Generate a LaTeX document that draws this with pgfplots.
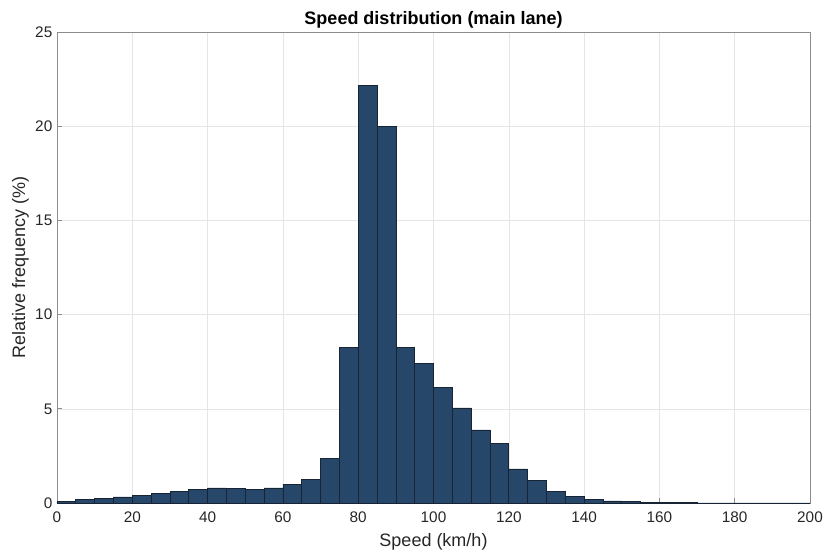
\documentclass[border=0pt]{standalone}
\usepackage{pgfplots}
\pgfplotsset{compat=1.18}
\usepackage{fontspec}
\setmainfont{Liberation Sans}
\definecolor{barfill}{RGB}{38,70,106}
\definecolor{baredge}{RGB}{22,36,52}
\definecolor{axgray}{RGB}{38,38,38}
\begin{document}
\begin{tikzpicture}
\path[use as bounding box] (-42.75pt,-36pt) rectangle (578.25pt,377.25pt);
\begin{axis}[
  at={(0,0)}, anchor=south west,
  scale only axis,
  width=564.75pt, height=353.25pt,
  xmin=0, xmax=200, ymin=0, ymax=25,
  xtick={0,20,...,200}, ytick={0,5,...,25},
  grid=major,
  major grid style={draw=black!10, line width=0.4pt},
  axis line style={draw=black!45, line width=0.5pt},
  tick style={draw=black!45, line width=0.5pt},
  tick align=inside,
  major tick length=4pt,
  xtick pos=bottom, ytick pos=left,
  ticklabel style={font=\fontsize{11.5}{13}\selectfont, text=axgray},
  xticklabel style={yshift=-3pt},
  /pgf/number format/assume math mode=true,
  xlabel={Speed (km/h)}, ylabel={Relative frequency (\%)},
  label style={font=\fontsize{13.5}{15}\selectfont, text=axgray},
  xlabel style={yshift=-1pt},
  ylabel style={yshift=-2pt},
  title={\textbf{Speed distribution (main lane)}},
  title style={font=\fontsize{13.5}{15}\selectfont, at={(0.5,1)}, anchor=south, yshift=-7pt},
]
\addplot[ybar interval, fill=barfill, draw=baredge, line width=0.5pt, fill opacity=1] table[x=x,y=y] {
x y
0 0.08
5 0.19
10 0.25
15 0.32
20 0.39
25 0.50
30 0.60
35 0.71
40 0.80
45 0.77
50 0.72
55 0.80
60 0.97
65 1.27
70 2.37
75 8.25
80 22.15
85 20.00
90 8.25
95 7.43
100 6.12
105 5.05
110 3.88
115 3.18
120 1.81
125 1.22
130 0.60
135 0.34
140 0.18
145 0.11
150 0.07
155 0.04
160 0.02
165 0.012
170 0.006
175 0.004
180 0.002
185 0.001
190 0.001
195 0.0005
200 0.0005
};
\end{axis}
\end{tikzpicture}
\end{document}
